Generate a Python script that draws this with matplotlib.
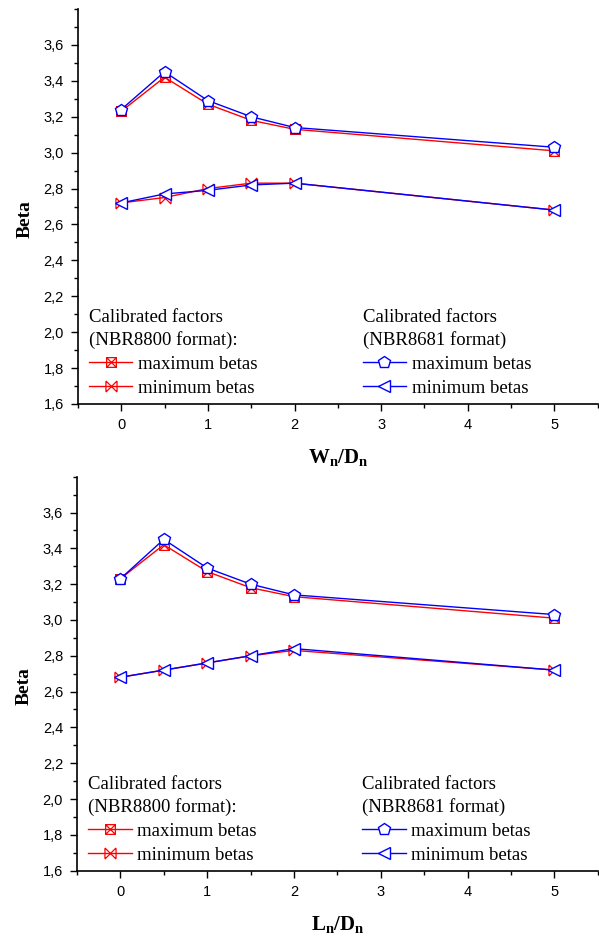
import numpy as np
import matplotlib
matplotlib.use('Agg')
import matplotlib.pyplot as plt
from matplotlib.path import Path
from matplotlib.ticker import MultipleLocator, FuncFormatter

plt.rcParams['mathtext.fontset'] = 'custom'
plt.rcParams['mathtext.rm'] = 'Liberation Serif'
plt.rcParams['mathtext.bf'] = 'Liberation Serif:bold'

x_ratio = [0, 0.5, 1, 1.5, 2, 5]
x_ticks = [0, 1, 2, 3, 4, 5]
y_ticks = [1.6, 1.8, 2.0, 2.2, 2.4, 2.6, 2.8, 3.0, 3.2, 3.4, 3.6]

# top panel, W_n/D_n
w_max_8800 = [3.23, 3.42, 3.27, 3.18, 3.13, 3.01]
w_min_8800 = [2.72, 2.75, 2.80, 2.83, 2.83, 2.68]
w_max_8681 = [3.24, 3.45, 3.29, 3.20, 3.14, 3.03]
w_min_8681 = [2.72, 2.77, 2.79, 2.82, 2.83, 2.68]

# bottom panel, L_n/D_n
l_max_8800 = [3.23, 3.42, 3.27, 3.18, 3.13, 3.01]
l_min_8800 = [2.68, 2.72, 2.76, 2.80, 2.83, 2.72]
l_max_8681 = [3.23, 3.45, 3.29, 3.20, 3.14, 3.03]
l_min_8681 = [2.68, 2.72, 2.76, 2.80, 2.84, 2.72]

M, L = Path.MOVETO, Path.LINETO
# square with a cross (red max)
box_x = Path([(-1, -1), (1, -1), (1, 1), (-1, 1), (-1, -1), (-1, -1), (1, 1), (-1, 1), (1, -1)],
             [M, L, L, L, L, M, L, M, L])
# cross with side bars (red min)
bar_x = Path([(-1, -1), (1, 1), (-1, 1), (1, -1), (-1, -0.9), (-1, 0.9), (1, -0.9), (1, 0.9)],
             [M, L, M, L, M, L, M, L])

serif = 'Liberation Serif'
sans = 'Liberation Sans'
comma_fmt = FuncFormatter(lambda v, p: f'{v:.1f}'.replace('.', ','))
leg_size = 13.5


def add_legend(ax, handles, title, x_anchor):
    leg = ax.legend(handles, ['maximum betas', 'minimum betas'], title=title,
                    loc='upper left', bbox_to_anchor=(x_anchor, 0.263),
                    frameon=False, borderpad=0, alignment='left',
                    handlelength=2.3, handletextpad=0.3, labelspacing=0.36,
                    prop={'family': serif, 'size': leg_size},
                    title_fontproperties={'family': serif, 'size': leg_size})
    leg.get_title().set_linespacing(1.32)
    return leg


def draw_panel(ax, max_8800, min_8800, max_8681, min_8681, xlabel):
    r1, = ax.plot(x_ratio, max_8800, color='red', lw=1.0, marker=box_x, ms=7,
                  mfc='none', mec='red', mew=0.9)
    r2, = ax.plot(x_ratio, min_8800, color='red', lw=1.0, marker=bar_x, ms=8,
                  mfc='none', mec='red', mew=0.9)
    b1, = ax.plot(x_ratio, max_8681, color='blue', lw=1.0, marker='p', ms=9,
                  mfc='white', mec='blue', mew=1.0)
    b2, = ax.plot(x_ratio, min_8681, color='blue', lw=1.0, marker='<', ms=9,
                  mfc='white', mec='blue', mew=1.0)

    ax.set_xlim(-0.5, 5.5)
    ax.set_ylim(1.6, 3.8)
    ax.set_xticks(x_ticks)
    ax.set_yticks(y_ticks)
    ax.xaxis.set_minor_locator(MultipleLocator(0.5))
    ax.yaxis.set_minor_locator(MultipleLocator(0.1))
    ax.yaxis.set_major_formatter(comma_fmt)

    for s in ['top', 'right']:
        ax.spines[s].set_visible(False)
    for s in ['left', 'bottom']:
        ax.spines[s].set_linewidth(1.2)
    ax.tick_params(which='major', direction='out', length=5, width=1.0, labelsize=10.5, pad=5)
    ax.tick_params(which='minor', direction='out', length=2.8, width=1.0)
    for lab in ax.get_xticklabels() + ax.get_yticklabels():
        lab.set_fontfamily(sans)

    ax.set_ylabel('Beta', fontsize=14, fontweight='bold', family=serif)
    ax.yaxis.set_label_coords(-0.086, 0.468)
    ax.set_xlabel(xlabel, fontsize=15, labelpad=11)

    leg1 = add_legend(ax, [r1, r2], 'Calibrated factors\n(NBR8800 format):', 0.004)
    ax.add_artist(leg1)
    add_legend(ax, [b1, b2], 'Calibrated factors\n(NBR8681 format)', 0.53)


fig = plt.figure(figsize=(5.99, 9.38), dpi=100)
ax_top = fig.add_axes([0.130, 0.5693, 0.868, 0.4211])
ax_bot = fig.add_axes([0.1285, 0.0718, 0.8695, 0.4200])

draw_panel(ax_top, w_max_8800, w_min_8800, w_max_8681, w_min_8681,
           r'$\mathbf{W_n/D_n}$')
draw_panel(ax_bot, l_max_8800, l_min_8800, l_max_8681, l_min_8681,
           r'$\mathbf{L_n/D_n}$')

fig.savefig('out.png', dpi=100)
